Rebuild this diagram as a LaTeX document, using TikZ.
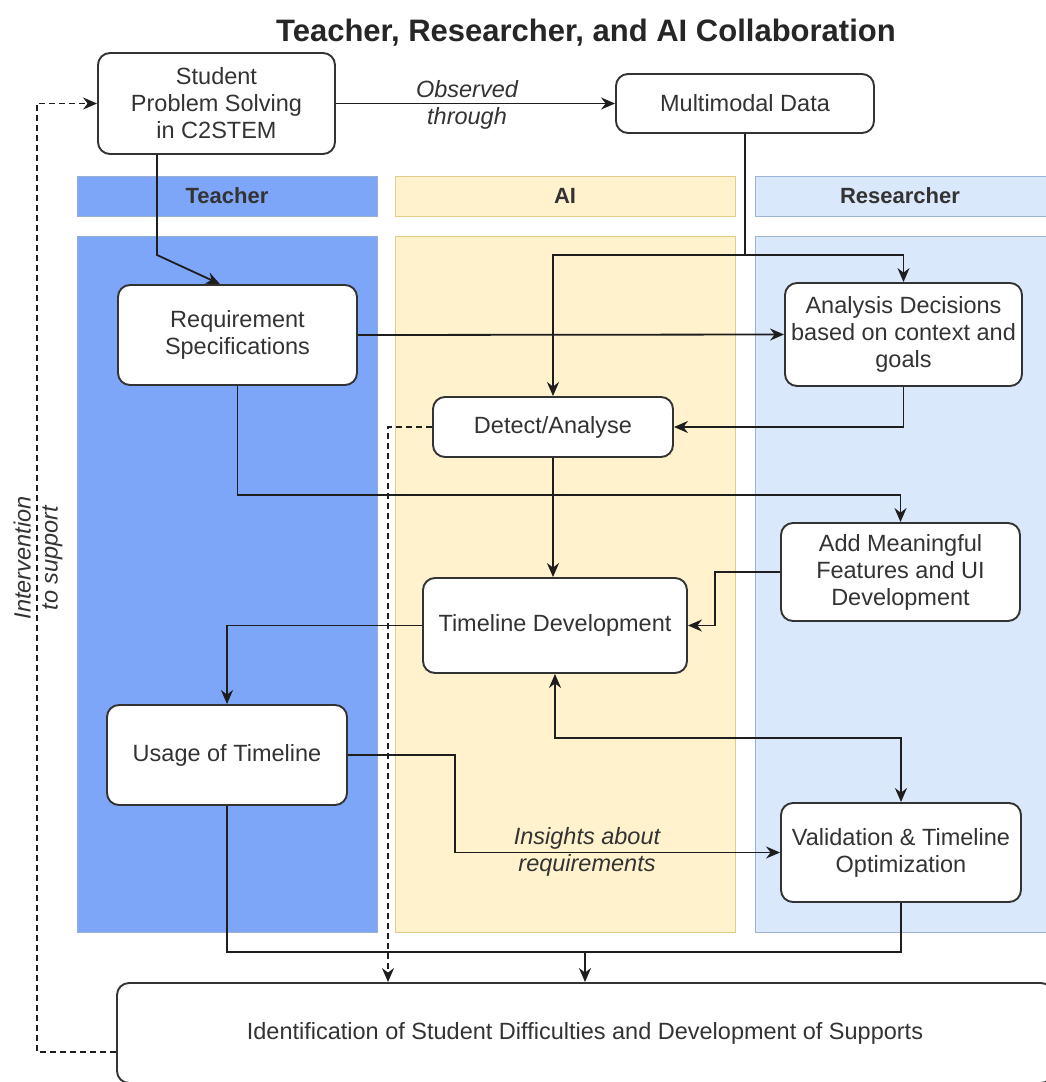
\documentclass[tikz,border=0pt]{standalone}
\usepackage{fontspec}
\setmainfont{Liberation Sans}
\usetikzlibrary{arrows.meta}
\definecolor{tblue}{HTML}{7EA6F8}
\definecolor{tblueb}{HTML}{6C8EBF}
\definecolor{ayel}{HTML}{FFF2CC}
\definecolor{ayelb}{HTML}{D6B656}
\definecolor{rblue}{HTML}{DAE8FC}
\definecolor{rblueb}{HTML}{9DB4D8}
\definecolor{txt}{HTML}{333333}
\definecolor{ln}{HTML}{1E1E1E}
\begin{document}
\begin{tikzpicture}[x=1pt,y=-1pt,
  box/.style={draw=txt, line width=1.9pt, rounded corners=12pt, fill=white, text=txt,
    align=center, font=\fontsize{23.5}{27}\selectfont, inner sep=0pt},
  lanehead/.style={inner sep=0pt, text=txt, font=\bfseries\fontsize{22}{26}\selectfont},
  lbl/.style={inner sep=0pt, text=txt, align=center, font=\itshape\fontsize{23.5}{27}\selectfont},
  line/.style={draw=ln, line width=1.8pt},
  conn/.style={line, -{Stealth[length=14pt,width=12pt]}},
  biconn/.style={line, {Stealth[length=14pt,width=12pt]}-{Stealth[length=14pt,width=12pt]}},
  dconn/.style={conn, line width=1.5pt, dash pattern=on 6pt off 4pt}
]
\clip (0,0) rectangle (1046,1082);
\fill[white] (0,0) rectangle (1046,1082);

% title
\node[inner sep=0pt, text=black!85, font=\bfseries\fontsize{31}{36}\selectfont] (title) at (586,33) {Teacher, Researcher, and AI Collaboration};

% lanes
\filldraw[fill=tblue, draw=tblueb!70, line width=0.8pt] (77,176) rectangle (377,216);
\filldraw[fill=ayel, draw=ayelb!70, line width=0.8pt] (395,176) rectangle (735,216);
\filldraw[fill=rblue, draw=rblueb, line width=0.8pt] (755,176) rectangle (1060,216);
\filldraw[fill=tblue, draw=tblueb!70, line width=0.8pt] (77,236) rectangle (377,932);
\filldraw[fill=ayel, draw=ayelb!70, line width=0.8pt] (395,236) rectangle (735,932);
\filldraw[fill=rblue, draw=rblueb, line width=0.8pt] (755,236) rectangle (1060,932);
\node[lanehead] (hT) at (227,196) {Teacher};
\node[lanehead] (hA) at (565,196) {AI};
\node[lanehead] (hR) at (900,196) {Researcher};

% boxes
\node[box, minimum width=237pt, minimum height=101pt] (stud) at (216.5,103.5) {Student\\Problem Solving\\in C2STEM};
\node[box, minimum width=258pt, minimum height=59pt] (mm) at (745,103.5) {Multimodal Data};
\node[box, minimum width=239pt, minimum height=100pt] (req) at (237.5,335) {Requirement\\Specifications};
\node[box, minimum width=237pt, minimum height=103pt] (ana) at (903.5,334.5) {Analysis Decisions\\based on context and\\goals};
\node[box, minimum width=240pt, minimum height=60pt] (det) at (553,427) {Detect/Analyse};
\node[box, minimum width=239pt, minimum height=98pt] (add) at (900.5,572) {Add Meaningful\\Features and UI\\Development};
\node[box, minimum width=264pt, minimum height=95pt] (tl) at (555,625.5) {Timeline Development};
\node[box, minimum width=240pt, minimum height=100pt] (use) at (227,755) {Usage of Timeline};
\node[box, minimum width=240pt, minimum height=99pt] (val) at (901,852.5) {Validation \& Timeline\\Optimization};
\node[box, minimum width=936pt, minimum height=100pt] (ident) at (585,1033) {Identification of Student Difficulties and Development of Supports};

% helper coordinates
\coordinate (c157) at (157,255);
\coordinate (c220) at (220,0);
\coordinate (j1) at (745,255);
\coordinate (j2) at (0,495);
\coordinate (j3) at (715,0);
\coordinate (j4) at (0,738);
\coordinate (j5) at (455,0);
\coordinate (j6) at (0,952);
\coordinate (j7) at (388,0);
\coordinate (j8) at (37,0);
\coordinate (e1) at (0,1052);

% connectors
\draw[conn] (stud.south -| c157) -- (c157) -- (req.north -| c220);
\draw[conn] (stud.east) -- (mm.west);
\node[lbl] (obs) at (467,105) {Observed\\through};
\draw[conn] (mm.south) -- (j1) -| (det.north);
\draw[conn] (j1) -| (ana.north);
\draw[conn] (req.east) -- (ana.west);
\draw[conn] (ana.south) |- (det.east);
\draw[conn] (req.south) -- (req.south |- j2) -| (add.north);
\draw[conn] (det.south) -- (det.south |- tl.north);
\draw[conn] (add.west) -- (add.west -| j3) |- (tl.east);
\draw[conn] (tl.west) -| (use.north);
\draw[biconn] (tl.south) -- (tl.south |- j4) -| (val.north);
\draw[conn] (use.east) -- (use.east -| j5) |- (val.west);
\node[lbl] (ins) at (587,852) {Insights about\\requirements};
\draw[line] (use.south) -- (use.south |- j6) -| (val.south);
\draw[conn] (ident.north |- j6) -- (ident.north);
\draw[dconn] (det.west) -- (det.west -| j7) -- (j7 |- ident.north);
\draw[dconn] (ident.west |- e1) -- (j8 |- e1) |- (stud.west);
\node[lbl, rotate=90] (intv) at (38,558) {Intervention\\to support};
\end{tikzpicture}
\end{document}
